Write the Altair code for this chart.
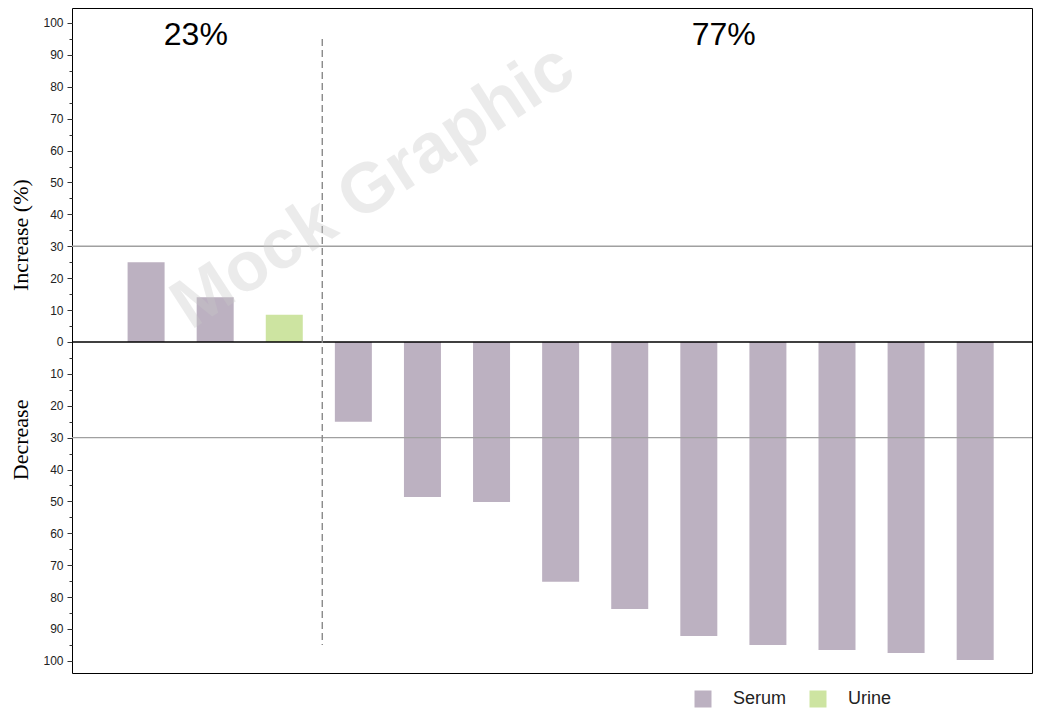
import altair as alt
import pandas as pd

# ---- data ----
positions = list(range(1, 14))
values = [25, 14, 8.5, -25, -48.6, -50.2, -75.2, -83.7, -92.2, -95, -96.6, -97.5, -99.7]
specimens = ["Serum", "Serum", "Urine"] + ["Serum"] * 10
group_labels = ["23%", "77%"]
group_x = [1.72, 9.36]
group_y = [96.2, 96.2]
threshold_values = [30, -30]
zero_value = [0]
split_x = [3.55]
split_y = [95]
split_y2 = [-95]
major_ticks = list(range(-100, 101, 10))
minor_ticks = list(range(-100, 101, 5))
y_titles = ["Increase (%)", "Decrease"]
y_title_pos = [33.5, -30.7]
watermark = ["Mock Graphic"]
wm_x = [4.29]
wm_y = [48.6]

bars_df = pd.DataFrame({"pos": positions, "value": values, "specimen": specimens})
groups_df = pd.DataFrame({"label": group_labels, "x": group_x, "y": group_y})
thr_df = pd.DataFrame({"y": threshold_values})
zero_df = pd.DataFrame({"y": zero_value})
split_df = pd.DataFrame({"x": split_x, "y": split_y, "y2": split_y2})
titles_df = pd.DataFrame({"t": y_titles, "y": y_title_pos})
wm_df = pd.DataFrame({"t": watermark, "x": wm_x, "y": wm_y})
minor_df = pd.DataFrame({"m": minor_ticks})

xscale = alt.Scale(domain=[0, 13.75], nice=False, zero=False)
yscale = alt.Scale(domain=[-103.8, 104.7], nice=False, zero=False)
FONT = "Liberation Sans"

bars = alt.Chart(bars_df).mark_bar(size=37).encode(
    x=alt.X("pos:Q", scale=xscale, axis=None),
    y=alt.Y(
        "value:Q",
        scale=yscale,
        axis=alt.Axis(
            orient="left",
            values=major_ticks,
            labelExpr="abs(datum.value)",
            title=None,
            grid=False,
            domain=False,
            tickSize=5,
            tickColor="#333333",
            labelPadding=4,
            labelFont=FONT,
            labelFontSize=12,
            labelColor="#222222",
        ),
    ),
    color=alt.Color(
        "specimen:N",
        scale=alt.Scale(domain=["Serum", "Urine"], range=["#bcb1c1", "#cde4a1"]),
        legend=alt.Legend(
            title=None,
            orient="none",
            legendX=622,
            legendY=682,
            direction="horizontal",
            symbolType="square",
            symbolSize=289,
            symbolStrokeWidth=0,
            labelFont=FONT,
            labelFontSize=18,
            labelColor="#222222",
            labelOffset=21,
            columnPadding=22,
        ),
    ),
)

minor_axis = alt.Chart(minor_df).mark_point(opacity=0).encode(
    x=alt.value(0),
    y=alt.Y(
        "m:Q",
        scale=yscale,
        axis=alt.Axis(
            orient="left",
            values=minor_ticks,
            labels=False,
            title=None,
            grid=False,
            domain=False,
            tickSize=3,
            tickColor="#333333",
        ),
    ),
)

thresholds = alt.Chart(thr_df).mark_rule(color="#a0a0a0", strokeWidth=1.3).encode(
    y=alt.Y("y:Q", scale=yscale, axis=None),
)

zero_line = alt.Chart(zero_df).mark_rule(color="#000000", strokeWidth=1.6).encode(
    y=alt.Y("y:Q", scale=yscale, axis=None),
)

split = alt.Chart(split_df).mark_rule(color="#8a8a8a", strokeDash=[7, 4], strokeWidth=1.4).encode(
    x=alt.X("x:Q", scale=xscale, axis=None),
    y=alt.Y("y:Q", scale=yscale, axis=None),
    y2="y2:Q",
)

groups = alt.Chart(groups_df).mark_text(font=FONT, fontSize=32, color="#000000", align="center", baseline="middle").encode(
    x=alt.X("x:Q", scale=xscale, axis=None),
    y=alt.Y("y:Q", scale=yscale, axis=None),
    text="label:N",
)

titles = alt.Chart(titles_df).mark_text(font="Liberation Serif", fontSize=22, color="#000000", angle=270, align="center", baseline="middle").encode(
    x=alt.value(-51),
    y=alt.Y("y:Q", scale=yscale, axis=None),
    text="t:N",
)

wm = alt.Chart(wm_df).mark_text(font=FONT, fontSize=70, fontWeight="bold", color="#c8c8c8", opacity=0.35, angle=327, align="center", baseline="middle").encode(
    x=alt.X("x:Q", scale=xscale, axis=None),
    y=alt.Y("y:Q", scale=yscale, axis=None),
    text="t:N",
)

chart = (
    alt.layer(bars, minor_axis, thresholds, zero_line, split, groups, titles, wm)
    .resolve_axis(y="independent")
    .properties(
        width=960,
        height=665,
        padding={"left": 2, "top": 0, "right": 0, "bottom": 0},
    )
    .configure_view(stroke="#000000", strokeWidth=1)
)

chart.save("out.html", embed_options={"renderer": "svg", "actions": False})
